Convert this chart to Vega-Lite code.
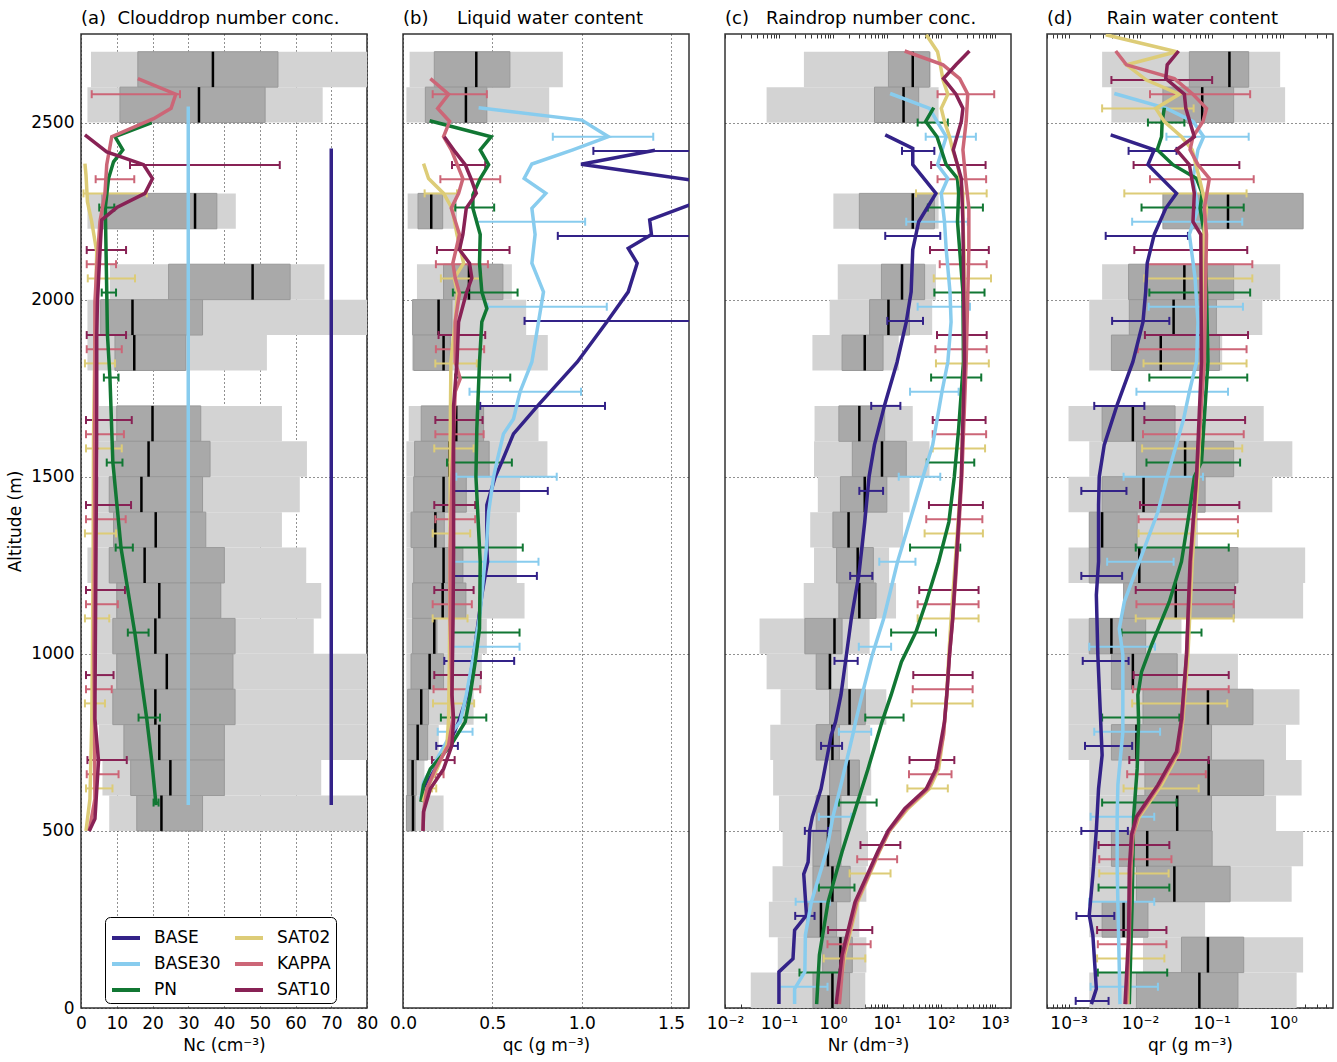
{
"$schema":"https://vega.github.io/schema/vega-lite/v6.json",
"padding":{"left":5,"top":8,"right":4,"bottom":4},
"autosize":{"type":"pad"},
"background":"white",
"bounds":"flush",
"spacing":36,
"config":{
 "font":"DejaVu Sans",
 "view":{"stroke":"#333","strokeWidth":1.5},
 "axis":{"labelFontSize":17,"titleFontSize":17,"titleFontWeight":"normal","labelColor":"#000","titleColor":"#000","grid":true,"gridColor":"#222","gridDash":[1,3],"gridWidth":1,"domain":false,"ticks":false,"labelPadding":7,"titlePadding":6,"labelFlush":false,"labelOverlap":false,"zindex":1},
 "title":{"fontSize":18,"fontWeight":"normal","anchor":"start","frame":"group","offset":6,"color":"#000"}
},
"datasets":{
"obs":[
{"p":"a","y":2600,"y1":2700,"lo":2.8,"q1":15.9,"med":36.9,"q3":55.1,"hi":90},
{"p":"a","y":2500,"y1":2600,"lo":1.8,"q1":10.9,"med":33.0,"q3":51.5,"hi":67.6},
{"p":"a","y":2200,"y1":2300,"lo":1.8,"q1":5.8,"med":31.9,"q3":38.0,"hi":43.3},
{"p":"a","y":2000,"y1":2100,"lo":8.1,"q1":24.5,"med":48.0,"q3":58.5,"hi":68.1},
{"p":"a","y":1900,"y1":2000,"lo":1.8,"q1":5.5,"med":14.4,"q3":34.0,"hi":90},
{"p":"a","y":1800,"y1":1900,"lo":1.8,"q1":9.5,"med":14.9,"q3":29.3,"hi":52.0},
{"p":"a","y":1600,"y1":1700,"lo":5.0,"q1":10.0,"med":20.0,"q3":33.5,"hi":56.2},
{"p":"a","y":1500,"y1":1600,"lo":5.0,"q1":9.1,"med":18.9,"q3":36.1,"hi":63.2},
{"p":"a","y":1400,"y1":1500,"lo":4.5,"q1":7.9,"med":16.9,"q3":34.0,"hi":61.2},
{"p":"a","y":1300,"y1":1400,"lo":4.5,"q1":9.1,"med":20.9,"q3":34.9,"hi":56.2},
{"p":"a","y":1200,"y1":1300,"lo":1.8,"q1":7.9,"med":17.8,"q3":40.1,"hi":63.0},
{"p":"a","y":1100,"y1":1200,"lo":3.5,"q1":10.0,"med":21.9,"q3":39.1,"hi":67.2},
{"p":"a","y":1000,"y1":1100,"lo":4.5,"q1":8.9,"med":20.8,"q3":43.1,"hi":65.1},
{"p":"a","y":900,"y1":1000,"lo":4.5,"q1":10.0,"med":24.0,"q3":42.5,"hi":90},
{"p":"a","y":800,"y1":900,"lo":4.5,"q1":8.9,"med":20.8,"q3":43.1,"hi":90},
{"p":"a","y":700,"y1":800,"lo":5.0,"q1":12.0,"med":21.9,"q3":40.1,"hi":90},
{"p":"a","y":600,"y1":700,"lo":6.0,"q1":13.9,"med":25.0,"q3":40.1,"hi":67.2},
{"p":"a","y":500,"y1":600,"lo":7.9,"q1":15.6,"med":22.5,"q3":34.0,"hi":90},
{"p":"b","y":2600,"y1":2700,"lo":0.037,"q1":0.175,"med":0.41,"q3":0.598,"hi":0.894},
{"p":"b","y":2500,"y1":2600,"lo":0.019,"q1":0.125,"med":0.352,"q3":0.469,"hi":0.818},
{"p":"b","y":2200,"y1":2300,"lo":0.026,"q1":0.084,"med":0.158,"q3":0.222,"hi":0.302},
{"p":"b","y":2000,"y1":2100,"lo":0.078,"q1":0.227,"med":0.369,"q3":0.559,"hi":0.609},
{"p":"b","y":1900,"y1":2000,"lo":0.05,"q1":0.054,"med":0.199,"q3":0.274,"hi":0.689},
{"p":"b","y":1800,"y1":1900,"lo":0.05,"q1":0.06,"med":0.227,"q3":0.265,"hi":0.81},
{"p":"b","y":1600,"y1":1700,"lo":0.032,"q1":0.102,"med":0.298,"q3":0.451,"hi":0.758},
{"p":"b","y":1500,"y1":1600,"lo":0.019,"q1":0.065,"med":0.259,"q3":0.482,"hi":0.808},
{"p":"b","y":1400,"y1":1500,"lo":0.019,"q1":0.06,"med":0.227,"q3":0.354,"hi":0.655},
{"p":"b","y":1300,"y1":1400,"lo":0.019,"q1":0.045,"med":0.181,"q3":0.231,"hi":0.637},
{"p":"b","y":1200,"y1":1300,"lo":0.019,"q1":0.06,"med":0.227,"q3":0.335,"hi":0.637},
{"p":"b","y":1100,"y1":1200,"lo":0.019,"q1":0.054,"med":0.222,"q3":0.352,"hi":0.68},
{"p":"b","y":1000,"y1":1100,"lo":0.019,"q1":0.054,"med":0.175,"q3":0.19,"hi":0.469},
{"p":"b","y":900,"y1":1000,"lo":0.019,"q1":0.045,"med":0.149,"q3":0.227,"hi":0.441},
{"p":"b","y":800,"y1":900,"lo":0.019,"q1":0.026,"med":0.102,"q3":0.143,"hi":0.395},
{"p":"b","y":700,"y1":800,"lo":0.019,"q1":0.026,"med":0.082,"q3":0.138,"hi":0.2},
{"p":"b","y":600,"y1":700,"lo":0.019,"q1":0.026,"med":0.054,"q3":0.074,"hi":0.12},
{"p":"b","y":500,"y1":600,"lo":0.019,"q1":0.019,"med":0.056,"q3":0.069,"hi":0.227},
{"p":"c","y":2600,"y1":2700,"lo":0.29,"q1":10.7,"med":30.2,"q3":61.7,"hi":66},
{"p":"c","y":2500,"y1":2600,"lo":0.059,"q1":5.9,"med":20.4,"q3":38.9,"hi":91},
{"p":"c","y":2200,"y1":2300,"lo":1.02,"q1":3.09,"med":30.2,"q3":75.9,"hi":91},
{"p":"c","y":2000,"y1":2100,"lo":1.23,"q1":7.94,"med":19.1,"q3":50.1,"hi":81.3},
{"p":"c","y":1900,"y1":2000,"lo":0.87,"q1":4.79,"med":10.7,"q3":26.3,"hi":69.2},
{"p":"c","y":1800,"y1":1900,"lo":0.417,"q1":1.48,"med":3.89,"q3":8.51,"hi":16.6},
{"p":"c","y":1600,"y1":1700,"lo":0.457,"q1":1.29,"med":3.09,"q3":9.12,"hi":30.2},
{"p":"c","y":1500,"y1":1600,"lo":0.447,"q1":2.29,"med":8.13,"q3":22.9,"hi":61.7},
{"p":"c","y":1400,"y1":1500,"lo":0.525,"q1":1.38,"med":3.89,"q3":10,"hi":26.3},
{"p":"c","y":1300,"y1":1400,"lo":0.38,"q1":1.0,"med":1.95,"q3":3.72,"hi":20},
{"p":"c","y":1200,"y1":1300,"lo":0.447,"q1":1.17,"med":2.88,"q3":5.62,"hi":11.0},
{"p":"c","y":1100,"y1":1200,"lo":0.288,"q1":1.29,"med":3.09,"q3":6.31,"hi":14.8},
{"p":"c","y":1000,"y1":1100,"lo":0.0437,"q1":0.302,"med":1.07,"q3":1.48,"hi":4.79},
{"p":"c","y":900,"y1":1000,"lo":0.059,"q1":0.49,"med":0.88,"q3":0.92,"hi":1.9},
{"p":"c","y":800,"y1":900,"lo":0.107,"q1":0.87,"med":2.04,"q3":3.98,"hi":9.77},
{"p":"c","y":700,"y1":800,"lo":0.069,"q1":0.49,"med":0.98,"q3":1.32,"hi":4.9},
{"p":"c","y":600,"y1":700,"lo":0.078,"q1":0.87,"med":1.95,"q3":3.09,"hi":5.13},
{"p":"c","y":500,"y1":600,"lo":0.1,"q1":0.49,"med":0.83,"q3":1.41,"hi":4.17},
{"p":"c","y":400,"y1":500,"lo":0.117,"q1":0.427,"med":0.81,"q3":1.41,"hi":4.47},
{"p":"c","y":300,"y1":400,"lo":0.076,"q1":0.427,"med":0.98,"q3":2.09,"hi":4.17},
{"p":"c","y":200,"y1":300,"lo":0.065,"q1":0.324,"med":0.6,"q3":1.17,"hi":3.09},
{"p":"c","y":100,"y1":200,"lo":0.095,"q1":0.646,"med":1.38,"q3":2.29,"hi":4.17},
{"p":"c","y":0,"y1":100,"lo":0.03,"q1":0.427,"med":0.98,"q3":2.04,"hi":3.98},
{"p":"d","y":2600,"y1":2700,"lo":0.00295,"q1":0.049,"med":0.178,"q3":0.331,"hi":0.912},
{"p":"d","y":2500,"y1":2600,"lo":0.00398,"q1":0.0209,"med":0.0741,"q3":0.204,"hi":1.07},
{"p":"d","y":2200,"y1":2300,"lo":0.0209,"q1":0.0209,"med":0.17,"q3":1.91,"hi":1.91},
{"p":"d","y":2000,"y1":2100,"lo":0.00295,"q1":0.00692,"med":0.0417,"q3":0.204,"hi":0.912},
{"p":"d","y":1900,"y1":2000,"lo":0.00195,"q1":0.00708,"med":0.0295,"q3":0.117,"hi":0.513},
{"p":"d","y":1800,"y1":1900,"lo":0.00195,"q1":0.00398,"med":0.0195,"q3":0.129,"hi":0.141},
{"p":"d","y":1600,"y1":1700,"lo":0.001,"q1":0.00295,"med":0.00794,"q3":0.0309,"hi":0.537},
{"p":"d","y":1500,"y1":1600,"lo":0.00195,"q1":0.00891,"med":0.0427,"q3":0.204,"hi":1.35},
{"p":"d","y":1400,"y1":1500,"lo":0.001,"q1":0.00295,"med":0.0112,"q3":0.0813,"hi":0.708},
{"p":"d","y":1300,"y1":1400,"lo":0.00195,"q1":0.00195,"med":0.00295,"q3":0.00912,"hi":0.0646},
{"p":"d","y":1200,"y1":1300,"lo":0.001,"q1":0.00195,"med":0.00977,"q3":0.234,"hi":2.04},
{"p":"d","y":1100,"y1":1200,"lo":0.00589,"q1":0.00589,"med":0.0316,"q3":0.209,"hi":1.91},
{"p":"d","y":1000,"y1":1100,"lo":0.001,"q1":0.00195,"med":0.00398,"q3":0.012,"hi":0.038},
{"p":"d","y":900,"y1":1000,"lo":0.001,"q1":0.00398,"med":0.00794,"q3":0.0331,"hi":0.234},
{"p":"d","y":800,"y1":900,"lo":0.001,"q1":0.011,"med":0.0891,"q3":0.38,"hi":1.7},
{"p":"d","y":700,"y1":800,"lo":0.001,"q1":0.00398,"med":0.00891,"q3":0.1,"hi":1.1},
{"p":"d","y":600,"y1":700,"lo":0.00195,"q1":0.0117,"med":0.0912,"q3":0.537,"hi":1.82},
{"p":"d","y":500,"y1":600,"lo":0.00195,"q1":0.00891,"med":0.0331,"q3":0.1,"hi":0.8},
{"p":"d","y":400,"y1":500,"lo":0.00195,"q1":0.00398,"med":0.0126,"q3":0.102,"hi":1.91},
{"p":"d","y":300,"y1":400,"lo":0.00195,"q1":0.00891,"med":0.0302,"q3":0.182,"hi":1.32},
{"p":"d","y":200,"y1":300,"lo":0.00195,"q1":0.00295,"med":0.00589,"q3":0.0129,"hi":0.0813},
{"p":"d","y":100,"y1":200,"lo":0.011,"q1":0.038,"med":0.0891,"q3":0.282,"hi":1.91},
{"p":"d","y":0,"y1":100,"lo":0.00195,"q1":0.00891,"med":0.0676,"q3":0.234,"hi":1.55}
],
"lines":[
{"p":"a","m":"BASE","y":573,"v":70},{"p":"a","m":"BASE","y":2427,"v":70},
{"p":"a","m":"BASE30","y":573,"v":30},{"p":"a","m":"BASE30","y":2545,"v":30},
{"p":"a","m":"PN","y":573,"v":21},{"p":"a","m":"PN","y":697,"v":19.8},{"p":"a","m":"PN","y":816,"v":18.4},{"p":"a","m":"PN","y":1056,"v":15.1},{"p":"a","m":"PN","y":1299,"v":11.2},{"p":"a","m":"PN","y":1542,"v":8.9},{"p":"a","m":"PN","y":1779,"v":8.1},{"p":"a","m":"PN","y":1900,"v":7.4},{"p":"a","m":"PN","y":2022,"v":7.2},{"p":"a","m":"PN","y":2260,"v":6.8},{"p":"a","m":"PN","y":2342,"v":7.7},{"p":"a","m":"PN","y":2389,"v":9.1},{"p":"a","m":"PN","y":2423,"v":11.7},{"p":"a","m":"PN","y":2460,"v":9.5},{"p":"a","m":"PN","y":2500,"v":19.8},
{"p":"a","m":"SAT02","y":500,"v":1.4},{"p":"a","m":"SAT02","y":590,"v":2.5},{"p":"a","m":"SAT02","y":800,"v":3.0},{"p":"a","m":"SAT02","y":1000,"v":3.2},{"p":"a","m":"SAT02","y":1300,"v":3.4},{"p":"a","m":"SAT02","y":1600,"v":3.5},{"p":"a","m":"SAT02","y":1900,"v":3.9},{"p":"a","m":"SAT02","y":2135,"v":4.4},{"p":"a","m":"SAT02","y":2220,"v":3.0},{"p":"a","m":"SAT02","y":2276,"v":1.8},{"p":"a","m":"SAT02","y":2352,"v":1.4},{"p":"a","m":"SAT02","y":2384,"v":1.1},
{"p":"a","m":"KAPPA","y":500,"v":2.3},{"p":"a","m":"KAPPA","y":590,"v":3.9},{"p":"a","m":"KAPPA","y":800,"v":3.8},{"p":"a","m":"KAPPA","y":1000,"v":3.6},{"p":"a","m":"KAPPA","y":1300,"v":3.8},{"p":"a","m":"KAPPA","y":1600,"v":3.8},{"p":"a","m":"KAPPA","y":1800,"v":3.9},{"p":"a","m":"KAPPA","y":1994,"v":3.9},{"p":"a","m":"KAPPA","y":2088,"v":4.4},{"p":"a","m":"KAPPA","y":2220,"v":5.3},{"p":"a","m":"KAPPA","y":2300,"v":6.7},{"p":"a","m":"KAPPA","y":2381,"v":7.2},{"p":"a","m":"KAPPA","y":2460,"v":8.6},{"p":"a","m":"KAPPA","y":2511,"v":20.3},{"p":"a","m":"KAPPA","y":2540,"v":25.2},{"p":"a","m":"KAPPA","y":2580,"v":26.5},{"p":"a","m":"KAPPA","y":2624,"v":15.9},
{"p":"a","m":"SAT10","y":500,"v":2.3},{"p":"a","m":"SAT10","y":534,"v":3.9},{"p":"a","m":"SAT10","y":697,"v":4.9},{"p":"a","m":"SAT10","y":816,"v":3.9},{"p":"a","m":"SAT10","y":1000,"v":4.0},{"p":"a","m":"SAT10","y":1300,"v":4.2},{"p":"a","m":"SAT10","y":1600,"v":4.4},{"p":"a","m":"SAT10","y":1900,"v":4.4},{"p":"a","m":"SAT10","y":1994,"v":4.6},{"p":"a","m":"SAT10","y":2135,"v":5.3},{"p":"a","m":"SAT10","y":2225,"v":5.8},{"p":"a","m":"SAT10","y":2260,"v":10.0},{"p":"a","m":"SAT10","y":2300,"v":17.9},{"p":"a","m":"SAT10","y":2342,"v":20.0},{"p":"a","m":"SAT10","y":2381,"v":17.5},{"p":"a","m":"SAT10","y":2417,"v":7.2},{"p":"a","m":"SAT10","y":2465,"v":1.1},
{"p":"b","m":"BASE","y":590,"v":0.106},{"p":"b","m":"BASE","y":619,"v":0.115},{"p":"b","m":"BASE","y":675,"v":0.171},{"p":"b","m":"BASE","y":742,"v":0.255},{"p":"b","m":"BASE","y":808,"v":0.311},{"p":"b","m":"BASE","y":884,"v":0.361},{"p":"b","m":"BASE","y":1025,"v":0.404},{"p":"b","m":"BASE","y":1166,"v":0.441},{"p":"b","m":"BASE","y":1260,"v":0.473},{"p":"b","m":"BASE","y":1299,"v":0.469},{"p":"b","m":"BASE","y":1420,"v":0.469},{"p":"b","m":"BASE","y":1500,"v":0.516},{"p":"b","m":"BASE","y":1542,"v":0.553},{"p":"b","m":"BASE","y":1621,"v":0.618},{"p":"b","m":"BASE","y":1703,"v":0.758},{"p":"b","m":"BASE","y":1824,"v":0.975},{"p":"b","m":"BASE","y":1937,"v":1.14},{"p":"b","m":"BASE","y":2022,"v":1.26},{"p":"b","m":"BASE","y":2103,"v":1.31},{"p":"b","m":"BASE","y":2145,"v":1.26},{"p":"b","m":"BASE","y":2184,"v":1.39},{"p":"b","m":"BASE","y":2225,"v":1.38},{"p":"b","m":"BASE","y":2267,"v":1.6},{"p":"b","m":"BASE","y":2300,"v":1.85},{"p":"b","m":"BASE","y":2337,"v":1.62},{"p":"b","m":"BASE","y":2382,"v":0.996},{"p":"b","m":"BASE","y":2422,"v":1.41},
{"p":"b","m":"BASE30","y":590,"v":0.1},{"p":"b","m":"BASE30","y":638,"v":0.115},{"p":"b","m":"BASE30","y":695,"v":0.181},{"p":"b","m":"BASE30","y":779,"v":0.274},{"p":"b","m":"BASE30","y":808,"v":0.32},{"p":"b","m":"BASE30","y":884,"v":0.354},{"p":"b","m":"BASE30","y":997,"v":0.395},{"p":"b","m":"BASE30","y":1118,"v":0.432},{"p":"b","m":"BASE30","y":1222,"v":0.451},{"p":"b","m":"BASE30","y":1297,"v":0.466},{"p":"b","m":"BASE30","y":1401,"v":0.479},{"p":"b","m":"BASE30","y":1500,"v":0.507},{"p":"b","m":"BASE30","y":1542,"v":0.525},{"p":"b","m":"BASE30","y":1621,"v":0.562},{"p":"b","m":"BASE30","y":1663,"v":0.618},{"p":"b","m":"BASE30","y":1740,"v":0.655},{"p":"b","m":"BASE30","y":1824,"v":0.721},{"p":"b","m":"BASE30","y":1937,"v":0.758},{"p":"b","m":"BASE30","y":2022,"v":0.786},{"p":"b","m":"BASE30","y":2103,"v":0.721},{"p":"b","m":"BASE30","y":2184,"v":0.739},{"p":"b","m":"BASE30","y":2258,"v":0.721},{"p":"b","m":"BASE30","y":2300,"v":0.799},{"p":"b","m":"BASE30","y":2342,"v":0.678},{"p":"b","m":"BASE30","y":2383,"v":0.721},{"p":"b","m":"BASE30","y":2423,"v":0.95},{"p":"b","m":"BASE30","y":2460,"v":1.149},{"p":"b","m":"BASE30","y":2507,"v":1.0},{"p":"b","m":"BASE30","y":2542,"v":0.423},
{"p":"b","m":"PN","y":582,"v":0.1},{"p":"b","m":"PN","y":630,"v":0.115},{"p":"b","m":"PN","y":675,"v":0.153},{"p":"b","m":"PN","y":742,"v":0.268},{"p":"b","m":"PN","y":808,"v":0.348},{"p":"b","m":"PN","y":884,"v":0.376},{"p":"b","m":"PN","y":977,"v":0.404},{"p":"b","m":"PN","y":1071,"v":0.428},{"p":"b","m":"PN","y":1260,"v":0.432},{"p":"b","m":"PN","y":1500,"v":0.408},{"p":"b","m":"PN","y":1635,"v":0.413},{"p":"b","m":"PN","y":1824,"v":0.428},{"p":"b","m":"PN","y":1937,"v":0.441},{"p":"b","m":"PN","y":1975,"v":0.469},{"p":"b","m":"PN","y":2022,"v":0.441},{"p":"b","m":"PN","y":2103,"v":0.428},{"p":"b","m":"PN","y":2184,"v":0.432},{"p":"b","m":"PN","y":2258,"v":0.391},{"p":"b","m":"PN","y":2296,"v":0.391},{"p":"b","m":"PN","y":2342,"v":0.432},{"p":"b","m":"PN","y":2381,"v":0.479},{"p":"b","m":"PN","y":2423,"v":0.432},{"p":"b","m":"PN","y":2460,"v":0.493},{"p":"b","m":"PN","y":2505,"v":0.149},
{"p":"b","m":"SAT02","y":582,"v":0.112},{"p":"b","m":"SAT02","y":619,"v":0.134},{"p":"b","m":"SAT02","y":675,"v":0.19},{"p":"b","m":"SAT02","y":742,"v":0.246},{"p":"b","m":"SAT02","y":816,"v":0.255},{"p":"b","m":"SAT02","y":1000,"v":0.26},{"p":"b","m":"SAT02","y":1300,"v":0.264},{"p":"b","m":"SAT02","y":1600,"v":0.264},{"p":"b","m":"SAT02","y":1824,"v":0.268},{"p":"b","m":"SAT02","y":1937,"v":0.292},{"p":"b","m":"SAT02","y":2018,"v":0.305},{"p":"b","m":"SAT02","y":2061,"v":0.287},{"p":"b","m":"SAT02","y":2103,"v":0.339},{"p":"b","m":"SAT02","y":2184,"v":0.302},{"p":"b","m":"SAT02","y":2258,"v":0.274},{"p":"b","m":"SAT02","y":2300,"v":0.227},{"p":"b","m":"SAT02","y":2342,"v":0.143},{"p":"b","m":"SAT02","y":2384,"v":0.115},
{"p":"b","m":"KAPPA","y":500,"v":0.112},{"p":"b","m":"KAPPA","y":554,"v":0.115},{"p":"b","m":"KAPPA","y":619,"v":0.134},{"p":"b","m":"KAPPA","y":675,"v":0.181},{"p":"b","m":"KAPPA","y":742,"v":0.255},{"p":"b","m":"KAPPA","y":816,"v":0.279},{"p":"b","m":"KAPPA","y":884,"v":0.274},{"p":"b","m":"KAPPA","y":1100,"v":0.264},{"p":"b","m":"KAPPA","y":1300,"v":0.264},{"p":"b","m":"KAPPA","y":1500,"v":0.274},{"p":"b","m":"KAPPA","y":1740,"v":0.292},{"p":"b","m":"KAPPA","y":1777,"v":0.32},{"p":"b","m":"KAPPA","y":1824,"v":0.292},{"p":"b","m":"KAPPA","y":1937,"v":0.292},{"p":"b","m":"KAPPA","y":2018,"v":0.316},{"p":"b","m":"KAPPA","y":2061,"v":0.292},{"p":"b","m":"KAPPA","y":2103,"v":0.279},{"p":"b","m":"KAPPA","y":2184,"v":0.316},{"p":"b","m":"KAPPA","y":2258,"v":0.27},{"p":"b","m":"KAPPA","y":2300,"v":0.311},{"p":"b","m":"KAPPA","y":2342,"v":0.335},{"p":"b","m":"KAPPA","y":2423,"v":0.27},{"p":"b","m":"KAPPA","y":2460,"v":0.227},{"p":"b","m":"KAPPA","y":2503,"v":0.261},{"p":"b","m":"KAPPA","y":2540,"v":0.194},{"p":"b","m":"KAPPA","y":2580,"v":0.255},{"p":"b","m":"KAPPA","y":2624,"v":0.153},
{"p":"b","m":"SAT10","y":500,"v":0.112},{"p":"b","m":"SAT10","y":554,"v":0.115},{"p":"b","m":"SAT10","y":619,"v":0.153},{"p":"b","m":"SAT10","y":675,"v":0.227},{"p":"b","m":"SAT10","y":742,"v":0.274},{"p":"b","m":"SAT10","y":816,"v":0.283},{"p":"b","m":"SAT10","y":884,"v":0.274},{"p":"b","m":"SAT10","y":1100,"v":0.28},{"p":"b","m":"SAT10","y":1300,"v":0.283},{"p":"b","m":"SAT10","y":1500,"v":0.283},{"p":"b","m":"SAT10","y":1700,"v":0.283},{"p":"b","m":"SAT10","y":1824,"v":0.302},{"p":"b","m":"SAT10","y":1937,"v":0.311},{"p":"b","m":"SAT10","y":2018,"v":0.354},{"p":"b","m":"SAT10","y":2061,"v":0.385},{"p":"b","m":"SAT10","y":2103,"v":0.372},{"p":"b","m":"SAT10","y":2141,"v":0.316},{"p":"b","m":"SAT10","y":2184,"v":0.335},{"p":"b","m":"SAT10","y":2258,"v":0.354},{"p":"b","m":"SAT10","y":2300,"v":0.41},{"p":"b","m":"SAT10","y":2342,"v":0.38},{"p":"b","m":"SAT10","y":2381,"v":0.348},{"p":"b","m":"SAT10","y":2417,"v":0.292},{"p":"b","m":"SAT10","y":2460,"v":0.231},
{"p":"c","m":"BASE","y":11,"v":0.1},{"p":"c","m":"BASE","y":102,"v":0.1},{"p":"c","m":"BASE","y":139,"v":0.182},{"p":"c","m":"BASE","y":220,"v":0.195},{"p":"c","m":"BASE","y":262,"v":0.324},{"p":"c","m":"BASE","y":378,"v":0.288},{"p":"c","m":"BASE","y":412,"v":0.347},{"p":"c","m":"BASE","y":503,"v":0.372},{"p":"c","m":"BASE","y":540,"v":0.417},{"p":"c","m":"BASE","y":619,"v":0.603},{"p":"c","m":"BASE","y":771,"v":0.933},{"p":"c","m":"BASE","y":808,"v":1.12},{"p":"c","m":"BASE","y":884,"v":1.41},{"p":"c","m":"BASE","y":997,"v":1.78},{"p":"c","m":"BASE","y":1099,"v":2.19},{"p":"c","m":"BASE","y":1222,"v":3.02},{"p":"c","m":"BASE","y":1372,"v":3.89},{"p":"c","m":"BASE","y":1500,"v":4.68},{"p":"c","m":"BASE","y":1590,"v":5.89},{"p":"c","m":"BASE","y":1703,"v":9.12},{"p":"c","m":"BASE","y":1824,"v":15.5},{"p":"c","m":"BASE","y":1937,"v":22.9},{"p":"c","m":"BASE","y":2022,"v":28.2},{"p":"c","m":"BASE","y":2141,"v":30.2},{"p":"c","m":"BASE","y":2220,"v":38.9},{"p":"c","m":"BASE","y":2300,"v":81.3},{"p":"c","m":"BASE","y":2381,"v":30.2},{"p":"c","m":"BASE","y":2427,"v":30.2},{"p":"c","m":"BASE","y":2465,"v":9.33},
{"p":"c","m":"BASE30","y":11,"v":0.195},{"p":"c","m":"BASE30","y":54,"v":0.195},{"p":"c","m":"BASE30","y":102,"v":0.302},{"p":"c","m":"BASE30","y":206,"v":0.309},{"p":"c","m":"BASE30","y":299,"v":0.398},{"p":"c","m":"BASE30","y":441,"v":0.759},{"p":"c","m":"BASE30","y":540,"v":1.0},{"p":"c","m":"BASE30","y":630,"v":1.41},{"p":"c","m":"BASE30","y":779,"v":2.4},{"p":"c","m":"BASE30","y":808,"v":2.63},{"p":"c","m":"BASE30","y":884,"v":3.47},{"p":"c","m":"BASE30","y":997,"v":5.37},{"p":"c","m":"BASE30","y":1099,"v":8.71},{"p":"c","m":"BASE30","y":1260,"v":15.8},{"p":"c","m":"BASE30","y":1372,"v":26.3},{"p":"c","m":"BASE30","y":1500,"v":46.8},{"p":"c","m":"BASE30","y":1590,"v":70.8},{"p":"c","m":"BASE30","y":1740,"v":105},{"p":"c","m":"BASE30","y":1824,"v":135},{"p":"c","m":"BASE30","y":1937,"v":155},{"p":"c","m":"BASE30","y":2022,"v":148},{"p":"c","m":"BASE30","y":2141,"v":126},{"p":"c","m":"BASE30","y":2220,"v":117},{"p":"c","m":"BASE30","y":2300,"v":102},{"p":"c","m":"BASE30","y":2342,"v":135},{"p":"c","m":"BASE30","y":2381,"v":87},{"p":"c","m":"BASE30","y":2460,"v":126},{"p":"c","m":"BASE30","y":2503,"v":85},{"p":"c","m":"BASE30","y":2540,"v":61.7},{"p":"c","m":"BASE30","y":2582,"v":11.5},
{"p":"c","m":"PN","y":11,"v":0.5},{"p":"c","m":"PN","y":150,"v":0.562},{"p":"c","m":"PN","y":299,"v":0.813},{"p":"c","m":"PN","y":441,"v":1.48},{"p":"c","m":"PN","y":582,"v":2.88},{"p":"c","m":"PN","y":675,"v":4.47},{"p":"c","m":"PN","y":808,"v":8.13},{"p":"c","m":"PN","y":884,"v":12.0},{"p":"c","m":"PN","y":977,"v":18.6},{"p":"c","m":"PN","y":1062,"v":34.7},{"p":"c","m":"PN","y":1147,"v":53.7},{"p":"c","m":"PN","y":1260,"v":91.2},{"p":"c","m":"PN","y":1372,"v":141},{"p":"c","m":"PN","y":1500,"v":178},{"p":"c","m":"PN","y":1635,"v":214},{"p":"c","m":"PN","y":1824,"v":263},{"p":"c","m":"PN","y":2022,"v":257},{"p":"c","m":"PN","y":2220,"v":204},{"p":"c","m":"PN","y":2300,"v":214},{"p":"c","m":"PN","y":2342,"v":204},{"p":"c","m":"PN","y":2381,"v":126},{"p":"c","m":"PN","y":2460,"v":85},{"p":"c","m":"PN","y":2503,"v":52.5},{"p":"c","m":"PN","y":2542,"v":74},
{"p":"c","m":"SAT02","y":11,"v":1.23},{"p":"c","m":"SAT02","y":150,"v":1.66},{"p":"c","m":"SAT02","y":299,"v":2.88},{"p":"c","m":"SAT02","y":441,"v":7.24},{"p":"c","m":"SAT02","y":500,"v":11.2},{"p":"c","m":"SAT02","y":563,"v":24.5},{"p":"c","m":"SAT02","y":619,"v":61.7},{"p":"c","m":"SAT02","y":675,"v":91.2},{"p":"c","m":"SAT02","y":771,"v":112},{"p":"c","m":"SAT02","y":864,"v":126},{"p":"c","m":"SAT02","y":997,"v":141},{"p":"c","m":"SAT02","y":1099,"v":155},{"p":"c","m":"SAT02","y":1222,"v":178},{"p":"c","m":"SAT02","y":1372,"v":209},{"p":"c","m":"SAT02","y":1500,"v":240},{"p":"c","m":"SAT02","y":1824,"v":275},{"p":"c","m":"SAT02","y":2141,"v":269},{"p":"c","m":"SAT02","y":2220,"v":257},{"p":"c","m":"SAT02","y":2300,"v":257},{"p":"c","m":"SAT02","y":2381,"v":204},{"p":"c","m":"SAT02","y":2423,"v":166},{"p":"c","m":"SAT02","y":2460,"v":145},{"p":"c","m":"SAT02","y":2503,"v":117},{"p":"c","m":"SAT02","y":2540,"v":102},{"p":"c","m":"SAT02","y":2580,"v":135},{"p":"c","m":"SAT02","y":2620,"v":110},{"p":"c","m":"SAT02","y":2663,"v":98},{"p":"c","m":"SAT02","y":2700,"v":87},{"p":"c","m":"SAT02","y":2748,"v":53.7},
{"p":"c","m":"KAPPA","y":11,"v":1.32},{"p":"c","m":"KAPPA","y":150,"v":1.58},{"p":"c","m":"KAPPA","y":299,"v":2.75},{"p":"c","m":"KAPPA","y":441,"v":7.08},{"p":"c","m":"KAPPA","y":500,"v":11.0},{"p":"c","m":"KAPPA","y":563,"v":22.9},{"p":"c","m":"KAPPA","y":619,"v":57.5},{"p":"c","m":"KAPPA","y":675,"v":85},{"p":"c","m":"KAPPA","y":771,"v":112},{"p":"c","m":"KAPPA","y":884,"v":129},{"p":"c","m":"KAPPA","y":997,"v":145},{"p":"c","m":"KAPPA","y":1099,"v":166},{"p":"c","m":"KAPPA","y":1222,"v":191},{"p":"c","m":"KAPPA","y":1372,"v":219},{"p":"c","m":"KAPPA","y":1500,"v":245},{"p":"c","m":"KAPPA","y":1824,"v":295},{"p":"c","m":"KAPPA","y":2141,"v":331},{"p":"c","m":"KAPPA","y":2258,"v":331},{"p":"c","m":"KAPPA","y":2342,"v":288},{"p":"c","m":"KAPPA","y":2423,"v":257},{"p":"c","m":"KAPPA","y":2503,"v":295},{"p":"c","m":"KAPPA","y":2580,"v":316},{"p":"c","m":"KAPPA","y":2624,"v":224},{"p":"c","m":"KAPPA","y":2663,"v":110},{"p":"c","m":"KAPPA","y":2702,"v":21.4},
{"p":"c","m":"SAT10","y":11,"v":1.15},{"p":"c","m":"SAT10","y":150,"v":1.48},{"p":"c","m":"SAT10","y":299,"v":2.57},{"p":"c","m":"SAT10","y":441,"v":6.76},{"p":"c","m":"SAT10","y":500,"v":10.5},{"p":"c","m":"SAT10","y":563,"v":21.4},{"p":"c","m":"SAT10","y":619,"v":53.7},{"p":"c","m":"SAT10","y":675,"v":81.3},{"p":"c","m":"SAT10","y":808,"v":117},{"p":"c","m":"SAT10","y":884,"v":129},{"p":"c","m":"SAT10","y":997,"v":145},{"p":"c","m":"SAT10","y":1099,"v":166},{"p":"c","m":"SAT10","y":1222,"v":186},{"p":"c","m":"SAT10","y":1372,"v":214},{"p":"c","m":"SAT10","y":1500,"v":240},{"p":"c","m":"SAT10","y":1824,"v":275},{"p":"c","m":"SAT10","y":2220,"v":257},{"p":"c","m":"SAT10","y":2342,"v":240},{"p":"c","m":"SAT10","y":2423,"v":170},{"p":"c","m":"SAT10","y":2503,"v":240},{"p":"c","m":"SAT10","y":2540,"v":257},{"p":"c","m":"SAT10","y":2580,"v":191},{"p":"c","m":"SAT10","y":2624,"v":112},{"p":"c","m":"SAT10","y":2663,"v":191},{"p":"c","m":"SAT10","y":2702,"v":339},
{"p":"d","m":"BASE","y":11,"v":0.00209},{"p":"d","m":"BASE","y":54,"v":0.00245},{"p":"d","m":"BASE","y":206,"v":0.00219},{"p":"d","m":"BASE","y":262,"v":0.00195},{"p":"d","m":"BASE","y":375,"v":0.00219},{"p":"d","m":"BASE","y":503,"v":0.00245},{"p":"d","m":"BASE","y":619,"v":0.00263},{"p":"d","m":"BASE","y":714,"v":0.00295},{"p":"d","m":"BASE","y":808,"v":0.00282},{"p":"d","m":"BASE","y":997,"v":0.00257},{"p":"d","m":"BASE","y":1166,"v":0.00245},{"p":"d","m":"BASE","y":1260,"v":0.00263},{"p":"d","m":"BASE","y":1420,"v":0.00263},{"p":"d","m":"BASE","y":1500,"v":0.00269},{"p":"d","m":"BASE","y":1590,"v":0.00316},{"p":"d","m":"BASE","y":1703,"v":0.00479},{"p":"d","m":"BASE","y":1824,"v":0.00794},{"p":"d","m":"BASE","y":1937,"v":0.011},{"p":"d","m":"BASE","y":2022,"v":0.012},{"p":"d","m":"BASE","y":2103,"v":0.0126},{"p":"d","m":"BASE","y":2184,"v":0.0158},{"p":"d","m":"BASE","y":2258,"v":0.0229},{"p":"d","m":"BASE","y":2300,"v":0.0324},{"p":"d","m":"BASE","y":2381,"v":0.0129},{"p":"d","m":"BASE","y":2423,"v":0.0158},{"p":"d","m":"BASE","y":2465,"v":0.00389},
{"p":"d","m":"BASE30","y":11,"v":0.00525},{"p":"d","m":"BASE30","y":110,"v":0.00513},{"p":"d","m":"BASE30","y":299,"v":0.0049},{"p":"d","m":"BASE30","y":393,"v":0.00479},{"p":"d","m":"BASE30","y":540,"v":0.00479},{"p":"d","m":"BASE30","y":630,"v":0.0049},{"p":"d","m":"BASE30","y":779,"v":0.00575},{"p":"d","m":"BASE30","y":997,"v":0.00575},{"p":"d","m":"BASE30","y":1071,"v":0.00513},{"p":"d","m":"BASE30","y":1147,"v":0.00603},{"p":"d","m":"BASE30","y":1260,"v":0.00977},{"p":"d","m":"BASE30","y":1401,"v":0.0178},{"p":"d","m":"BASE30","y":1500,"v":0.024},{"p":"d","m":"BASE30","y":1663,"v":0.0407},{"p":"d","m":"BASE30","y":1740,"v":0.049},{"p":"d","m":"BASE30","y":1824,"v":0.0617},{"p":"d","m":"BASE30","y":1937,"v":0.0646},{"p":"d","m":"BASE30","y":2061,"v":0.0589},{"p":"d","m":"BASE30","y":2184,"v":0.049},{"p":"d","m":"BASE30","y":2258,"v":0.0646},{"p":"d","m":"BASE30","y":2342,"v":0.055},{"p":"d","m":"BASE30","y":2423,"v":0.0646},{"p":"d","m":"BASE30","y":2460,"v":0.0776},{"p":"d","m":"BASE30","y":2503,"v":0.055},{"p":"d","m":"BASE30","y":2540,"v":0.0234},{"p":"d","m":"BASE30","y":2582,"v":0.00437},
{"p":"d","m":"PN","y":11,"v":0.00708},{"p":"d","m":"PN","y":299,"v":0.00776},{"p":"d","m":"PN","y":540,"v":0.00813},{"p":"d","m":"PN","y":675,"v":0.00912},{"p":"d","m":"PN","y":808,"v":0.00955},{"p":"d","m":"PN","y":884,"v":0.00933},{"p":"d","m":"PN","y":949,"v":0.0105},{"p":"d","m":"PN","y":1025,"v":0.0145},{"p":"d","m":"PN","y":1147,"v":0.0257},{"p":"d","m":"PN","y":1260,"v":0.038},{"p":"d","m":"PN","y":1401,"v":0.049},{"p":"d","m":"PN","y":1500,"v":0.0575},{"p":"d","m":"PN","y":1542,"v":0.0724},{"p":"d","m":"PN","y":1824,"v":0.0891},{"p":"d","m":"PN","y":2022,"v":0.0851},{"p":"d","m":"PN","y":2184,"v":0.0794},{"p":"d","m":"PN","y":2258,"v":0.0692},{"p":"d","m":"PN","y":2300,"v":0.0741},{"p":"d","m":"PN","y":2342,"v":0.0617},{"p":"d","m":"PN","y":2381,"v":0.0288},{"p":"d","m":"PN","y":2423,"v":0.0174},{"p":"d","m":"PN","y":2460,"v":0.02},{"p":"d","m":"PN","y":2503,"v":0.0204},{"p":"d","m":"PN","y":2542,"v":0.0219},
{"p":"d","m":"SAT02","y":11,"v":0.00676},{"p":"d","m":"SAT02","y":206,"v":0.00692},{"p":"d","m":"SAT02","y":393,"v":0.00741},{"p":"d","m":"SAT02","y":489,"v":0.00794},{"p":"d","m":"SAT02","y":540,"v":0.00977},{"p":"d","m":"SAT02","y":630,"v":0.02},{"p":"d","m":"SAT02","y":724,"v":0.0355},{"p":"d","m":"SAT02","y":816,"v":0.0398},{"p":"d","m":"SAT02","y":997,"v":0.0468},{"p":"d","m":"SAT02","y":1260,"v":0.0537},{"p":"d","m":"SAT02","y":1500,"v":0.0646},{"p":"d","m":"SAT02","y":1824,"v":0.0759},{"p":"d","m":"SAT02","y":2103,"v":0.0759},{"p":"d","m":"SAT02","y":2184,"v":0.0776},{"p":"d","m":"SAT02","y":2258,"v":0.0851},{"p":"d","m":"SAT02","y":2342,"v":0.0676},{"p":"d","m":"SAT02","y":2423,"v":0.0537},{"p":"d","m":"SAT02","y":2460,"v":0.038},{"p":"d","m":"SAT02","y":2503,"v":0.0219},{"p":"d","m":"SAT02","y":2540,"v":0.0166},{"p":"d","m":"SAT02","y":2580,"v":0.0355},{"p":"d","m":"SAT02","y":2620,"v":0.0123},{"p":"d","m":"SAT02","y":2663,"v":0.00646},{"p":"d","m":"SAT02","y":2700,"v":0.0324},{"p":"d","m":"SAT02","y":2748,"v":0.00331},
{"p":"d","m":"KAPPA","y":11,"v":0.00646},{"p":"d","m":"KAPPA","y":206,"v":0.00708},{"p":"d","m":"KAPPA","y":393,"v":0.00741},{"p":"d","m":"KAPPA","y":489,"v":0.00794},{"p":"d","m":"KAPPA","y":540,"v":0.00933},{"p":"d","m":"KAPPA","y":630,"v":0.0186},{"p":"d","m":"KAPPA","y":724,"v":0.0339},{"p":"d","m":"KAPPA","y":816,"v":0.0389},{"p":"d","m":"KAPPA","y":997,"v":0.0447},{"p":"d","m":"KAPPA","y":1260,"v":0.0513},{"p":"d","m":"KAPPA","y":1500,"v":0.0617},{"p":"d","m":"KAPPA","y":1824,"v":0.0794},{"p":"d","m":"KAPPA","y":2184,"v":0.0851},{"p":"d","m":"KAPPA","y":2258,"v":0.0794},{"p":"d","m":"KAPPA","y":2342,"v":0.0933},{"p":"d","m":"KAPPA","y":2381,"v":0.0646},{"p":"d","m":"KAPPA","y":2423,"v":0.0501},{"p":"d","m":"KAPPA","y":2460,"v":0.055},{"p":"d","m":"KAPPA","y":2503,"v":0.0759},{"p":"d","m":"KAPPA","y":2540,"v":0.0851},{"p":"d","m":"KAPPA","y":2580,"v":0.055},{"p":"d","m":"KAPPA","y":2624,"v":0.0302},{"p":"d","m":"KAPPA","y":2663,"v":0.00646},{"p":"d","m":"KAPPA","y":2702,"v":0.00457},
{"p":"d","m":"SAT10","y":11,"v":0.00617},{"p":"d","m":"SAT10","y":206,"v":0.00692},{"p":"d","m":"SAT10","y":393,"v":0.00708},{"p":"d","m":"SAT10","y":489,"v":0.00759},{"p":"d","m":"SAT10","y":540,"v":0.00891},{"p":"d","m":"SAT10","y":630,"v":0.0178},{"p":"d","m":"SAT10","y":724,"v":0.0324},{"p":"d","m":"SAT10","y":816,"v":0.038},{"p":"d","m":"SAT10","y":997,"v":0.0447},{"p":"d","m":"SAT10","y":1260,"v":0.0501},{"p":"d","m":"SAT10","y":1500,"v":0.0617},{"p":"d","m":"SAT10","y":1824,"v":0.0724},{"p":"d","m":"SAT10","y":2184,"v":0.0708},{"p":"d","m":"SAT10","y":2220,"v":0.055},{"p":"d","m":"SAT10","y":2300,"v":0.0575},{"p":"d","m":"SAT10","y":2381,"v":0.049},{"p":"d","m":"SAT10","y":2423,"v":0.0324},{"p":"d","m":"SAT10","y":2460,"v":0.0575},{"p":"d","m":"SAT10","y":2540,"v":0.0437},{"p":"d","m":"SAT10","y":2580,"v":0.0417},{"p":"d","m":"SAT10","y":2624,"v":0.0229},{"p":"d","m":"SAT10","y":2663,"v":0.024},{"p":"d","m":"SAT10","y":2702,"v":0.0347}
],
"err":[
{"p":"a","m":"KAPPA","y":2580,"lo":3.0,"hi":27.7},{"p":"a","m":"SAT10","y":2380,"lo":13.7,"hi":55.6},{"p":"a","m":"KAPPA","y":2340,"lo":4.1,"hi":14.9},{"p":"a","m":"SAT02","y":2300,"lo":0.7,"hi":18.4},{"p":"a","m":"PN","y":2260,"lo":5.1,"hi":9.3},{"p":"a","m":"SAT10","y":2140,"lo":1.6,"hi":12.6},{"p":"a","m":"KAPPA","y":2100,"lo":1.6,"hi":9.8},{"p":"a","m":"SAT02","y":2060,"lo":1.9,"hi":15.1},{"p":"a","m":"PN","y":2020,"lo":5.8,"hi":9.8},{"p":"a","m":"SAT10","y":1900,"lo":1.6,"hi":12.6},{"p":"a","m":"KAPPA","y":1860,"lo":1.6,"hi":11.4},{"p":"a","m":"SAT02","y":1820,"lo":1.1,"hi":9.5},{"p":"a","m":"PN","y":1780,"lo":6.4,"hi":10.5},{"p":"a","m":"SAT10","y":1660,"lo":1.4,"hi":14.2},{"p":"a","m":"KAPPA","y":1620,"lo":1.4,"hi":12.0},{"p":"a","m":"SAT02","y":1580,"lo":1.4,"hi":11.4},{"p":"a","m":"PN","y":1540,"lo":7.2,"hi":11.6},{"p":"a","m":"SAT10","y":1420,"lo":1.4,"hi":14.0},{"p":"a","m":"KAPPA","y":1380,"lo":1.4,"hi":12.5},{"p":"a","m":"SAT02","y":1340,"lo":1.1,"hi":9.8},{"p":"a","m":"PN","y":1300,"lo":9.7,"hi":14.5},{"p":"a","m":"SAT10","y":1180,"lo":1.4,"hi":12.3},{"p":"a","m":"KAPPA","y":1140,"lo":1.4,"hi":10.3},{"p":"a","m":"SAT02","y":1100,"lo":1.1,"hi":7.9},{"p":"a","m":"PN","y":1060,"lo":13.1,"hi":18.9},{"p":"a","m":"SAT10","y":940,"lo":1.4,"hi":9.1},{"p":"a","m":"KAPPA","y":900,"lo":1.4,"hi":8.6},{"p":"a","m":"SAT02","y":860,"lo":1.1,"hi":6.7},{"p":"a","m":"PN","y":820,"lo":16.1,"hi":22.1},{"p":"a","m":"SAT10","y":700,"lo":1.8,"hi":12.8},{"p":"a","m":"KAPPA","y":660,"lo":1.6,"hi":10.5},{"p":"a","m":"SAT02","y":620,"lo":1.4,"hi":8.8},{"p":"a","m":"PN","y":580,"lo":20.3,"hi":21.7},
{"p":"b","m":"KAPPA","y":2580,"lo":0.166,"hi":0.469},{"p":"b","m":"BASE30","y":2460,"lo":0.838,"hi":1.4},{"p":"b","m":"BASE","y":2420,"lo":1.065,"hi":1.8},{"p":"b","m":"SAT10","y":2380,"lo":0.274,"hi":0.46},{"p":"b","m":"KAPPA","y":2340,"lo":0.209,"hi":0.544},{"p":"b","m":"SAT02","y":2300,"lo":0.121,"hi":0.302},{"p":"b","m":"PN","y":2260,"lo":0.292,"hi":0.51},{"p":"b","m":"BASE30","y":2220,"lo":0.413,"hi":1.019},{"p":"b","m":"BASE","y":2180,"lo":0.866,"hi":1.8},{"p":"b","m":"SAT10","y":2140,"lo":0.19,"hi":0.596},{"p":"b","m":"KAPPA","y":2100,"lo":0.184,"hi":0.475},{"p":"b","m":"SAT02","y":2060,"lo":0.212,"hi":0.438},{"p":"b","m":"PN","y":2020,"lo":0.279,"hi":0.641},{"p":"b","m":"BASE30","y":1980,"lo":0.473,"hi":1.14},{"p":"b","m":"BASE","y":1940,"lo":0.68,"hi":1.8},{"p":"b","m":"SAT10","y":1900,"lo":0.199,"hi":0.46},{"p":"b","m":"KAPPA","y":1860,"lo":0.184,"hi":0.454},{"p":"b","m":"SAT02","y":1820,"lo":0.181,"hi":0.413},{"p":"b","m":"PN","y":1780,"lo":0.292,"hi":0.6},{"p":"b","m":"BASE30","y":1740,"lo":0.372,"hi":0.996},{"p":"b","m":"BASE","y":1700,"lo":0.432,"hi":1.13},{"p":"b","m":"SAT10","y":1660,"lo":0.181,"hi":0.445},{"p":"b","m":"KAPPA","y":1620,"lo":0.181,"hi":0.451},{"p":"b","m":"SAT02","y":1580,"lo":0.175,"hi":0.395},{"p":"b","m":"PN","y":1540,"lo":0.246,"hi":0.609},{"p":"b","m":"BASE30","y":1500,"lo":0.298,"hi":0.86},{"p":"b","m":"BASE","y":1460,"lo":0.279,"hi":0.81},{"p":"b","m":"SAT10","y":1420,"lo":0.175,"hi":0.404},{"p":"b","m":"KAPPA","y":1380,"lo":0.181,"hi":0.404},{"p":"b","m":"SAT02","y":1340,"lo":0.166,"hi":0.376},{"p":"b","m":"PN","y":1300,"lo":0.27,"hi":0.67},{"p":"b","m":"BASE30","y":1260,"lo":0.274,"hi":0.758},{"p":"b","m":"BASE","y":1220,"lo":0.264,"hi":0.749},{"p":"b","m":"SAT10","y":1180,"lo":0.175,"hi":0.395},{"p":"b","m":"KAPPA","y":1140,"lo":0.166,"hi":0.385},{"p":"b","m":"SAT02","y":1100,"lo":0.166,"hi":0.361},{"p":"b","m":"PN","y":1060,"lo":0.268,"hi":0.652},{"p":"b","m":"BASE30","y":1020,"lo":0.274,"hi":0.652},{"p":"b","m":"BASE","y":980,"lo":0.231,"hi":0.622},{"p":"b","m":"SAT10","y":940,"lo":0.175,"hi":0.436},{"p":"b","m":"KAPPA","y":900,"lo":0.171,"hi":0.432},{"p":"b","m":"SAT02","y":860,"lo":0.168,"hi":0.398},{"p":"b","m":"PN","y":820,"lo":0.212,"hi":0.466},{"p":"b","m":"BASE30","y":780,"lo":0.194,"hi":0.389},{"p":"b","m":"BASE","y":740,"lo":0.186,"hi":0.307},{"p":"b","m":"SAT10","y":700,"lo":0.162,"hi":0.289},{"p":"b","m":"KAPPA","y":660,"lo":0.18,"hi":0.227},{"p":"b","m":"SAT02","y":620,"lo":0.162,"hi":0.186},
{"p":"c","m":"KAPPA","y":2580,"lo":87,"hi":977},{"p":"c","m":"PN","y":2500,"lo":37.2,"hi":135},{"p":"c","m":"BASE30","y":2460,"lo":52.5,"hi":447},{"p":"c","m":"BASE","y":2420,"lo":19.1,"hi":75.9},{"p":"c","m":"SAT10","y":2380,"lo":66.1,"hi":676},{"p":"c","m":"KAPPA","y":2340,"lo":87,"hi":692},{"p":"c","m":"SAT02","y":2300,"lo":34.7,"hi":708},{"p":"c","m":"PN","y":2260,"lo":57.5,"hi":603},{"p":"c","m":"BASE30","y":2220,"lo":22.9,"hi":316},{"p":"c","m":"BASE","y":2180,"lo":9.33,"hi":97.7},{"p":"c","m":"SAT10","y":2140,"lo":63.1,"hi":776},{"p":"c","m":"KAPPA","y":2100,"lo":95.5,"hi":708},{"p":"c","m":"SAT02","y":2060,"lo":74.1,"hi":851},{"p":"c","m":"PN","y":2020,"lo":75.9,"hi":646},{"p":"c","m":"BASE30","y":1980,"lo":37.2,"hi":347},{"p":"c","m":"BASE","y":1940,"lo":10.2,"hi":46.8},{"p":"c","m":"SAT10","y":1900,"lo":85.1,"hi":708},{"p":"c","m":"KAPPA","y":1860,"lo":79.4,"hi":708},{"p":"c","m":"SAT02","y":1820,"lo":81.3,"hi":776},{"p":"c","m":"PN","y":1780,"lo":66.1,"hi":562},{"p":"c","m":"BASE30","y":1740,"lo":26.9,"hi":214},{"p":"c","m":"BASE","y":1700,"lo":5.13,"hi":17.8},{"p":"c","m":"SAT10","y":1660,"lo":70.8,"hi":676},{"p":"c","m":"KAPPA","y":1620,"lo":70.8,"hi":692},{"p":"c","m":"SAT02","y":1580,"lo":70.8,"hi":661},{"p":"c","m":"PN","y":1540,"lo":55,"hi":417},{"p":"c","m":"BASE30","y":1500,"lo":16.6,"hi":97.7},{"p":"c","m":"BASE","y":1460,"lo":3.09,"hi":8.51},{"p":"c","m":"SAT10","y":1420,"lo":60.3,"hi":603},{"p":"c","m":"KAPPA","y":1380,"lo":53.7,"hi":589},{"p":"c","m":"SAT02","y":1340,"lo":50.1,"hi":603},{"p":"c","m":"PN","y":1300,"lo":26.9,"hi":229},{"p":"c","m":"BASE30","y":1260,"lo":7.24,"hi":33.9},{"p":"c","m":"BASE","y":1220,"lo":2.09,"hi":5.37},{"p":"c","m":"SAT10","y":1180,"lo":39.8,"hi":501},{"p":"c","m":"KAPPA","y":1140,"lo":37.2,"hi":501},{"p":"c","m":"SAT02","y":1100,"lo":37.2,"hi":501},{"p":"c","m":"PN","y":1060,"lo":12.0,"hi":81.3},{"p":"c","m":"BASE30","y":1020,"lo":3.02,"hi":12.0},{"p":"c","m":"BASE","y":980,"lo":1.07,"hi":2.88},{"p":"c","m":"SAT10","y":940,"lo":30.9,"hi":389},{"p":"c","m":"KAPPA","y":900,"lo":30.2,"hi":389},{"p":"c","m":"SAT02","y":860,"lo":28.8,"hi":389},{"p":"c","m":"PN","y":820,"lo":3.98,"hi":20.4},{"p":"c","m":"BASE30","y":780,"lo":1.29,"hi":5.13},{"p":"c","m":"BASE","y":740,"lo":0.603,"hi":1.48},{"p":"c","m":"SAT10","y":700,"lo":26.3,"hi":178},{"p":"c","m":"KAPPA","y":660,"lo":25.7,"hi":158},{"p":"c","m":"SAT02","y":620,"lo":24.0,"hi":135},{"p":"c","m":"PN","y":580,"lo":1.29,"hi":6.46},{"p":"c","m":"BASE30","y":540,"lo":0.55,"hi":2.19},{"p":"c","m":"BASE","y":500,"lo":0.302,"hi":0.813},{"p":"c","m":"SAT10","y":460,"lo":3.24,"hi":17.8},{"p":"c","m":"KAPPA","y":420,"lo":2.82,"hi":15.5},{"p":"c","m":"SAT02","y":380,"lo":2.04,"hi":11.7},{"p":"c","m":"PN","y":340,"lo":0.55,"hi":2.51},{"p":"c","m":"BASE30","y":300,"lo":0.204,"hi":0.871},{"p":"c","m":"BASE","y":260,"lo":0.2,"hi":0.457},{"p":"c","m":"SAT10","y":220,"lo":0.813,"hi":5.37},{"p":"c","m":"KAPPA","y":180,"lo":0.794,"hi":5.01},{"p":"c","m":"SAT02","y":140,"lo":0.676,"hi":3.98},{"p":"c","m":"PN","y":100,"lo":0.24,"hi":1.32},{"p":"c","m":"BASE30","y":60,"lo":0.102,"hi":0.794},
{"p":"d","m":"SAT10","y":2620,"lo":0.00398,"hi":0.102},{"p":"d","m":"KAPPA","y":2580,"lo":0.0138,"hi":0.347},{"p":"d","m":"SAT02","y":2540,"lo":0.00295,"hi":0.0562},{"p":"d","m":"PN","y":2500,"lo":0.0129,"hi":0.0417},{"p":"d","m":"BASE30","y":2460,"lo":0.0234,"hi":0.331},{"p":"d","m":"BASE","y":2420,"lo":0.00692,"hi":0.0324},{"p":"d","m":"SAT10","y":2380,"lo":0.00813,"hi":0.245},{"p":"d","m":"KAPPA","y":2340,"lo":0.0138,"hi":0.389},{"p":"d","m":"SAT02","y":2300,"lo":0.00603,"hi":0.309},{"p":"d","m":"PN","y":2260,"lo":0.0105,"hi":0.282},{"p":"d","m":"BASE30","y":2220,"lo":0.00776,"hi":0.269},{"p":"d","m":"BASE","y":2180,"lo":0.00331,"hi":0.0468},{"p":"d","m":"SAT10","y":2140,"lo":0.00832,"hi":0.316},{"p":"d","m":"KAPPA","y":2100,"lo":0.0129,"hi":0.372},{"p":"d","m":"SAT02","y":2060,"lo":0.0115,"hi":0.372},{"p":"d","m":"PN","y":2020,"lo":0.0135,"hi":0.347},{"p":"d","m":"BASE30","y":1980,"lo":0.0132,"hi":0.275},{"p":"d","m":"BASE","y":1940,"lo":0.00407,"hi":0.0257},{"p":"d","m":"SAT10","y":1900,"lo":0.0117,"hi":0.324},{"p":"d","m":"KAPPA","y":1860,"lo":0.00933,"hi":0.309},{"p":"d","m":"SAT02","y":1820,"lo":0.0112,"hi":0.309},{"p":"d","m":"PN","y":1780,"lo":0.0135,"hi":0.316},{"p":"d","m":"BASE30","y":1740,"lo":0.00891,"hi":0.17},{"p":"d","m":"BASE","y":1700,"lo":0.00229,"hi":0.0115},{"p":"d","m":"SAT10","y":1660,"lo":0.0115,"hi":0.295},{"p":"d","m":"KAPPA","y":1620,"lo":0.011,"hi":0.282},{"p":"d","m":"SAT02","y":1580,"lo":0.0107,"hi":0.269},{"p":"d","m":"PN","y":1540,"lo":0.0123,"hi":0.251},{"p":"d","m":"BASE30","y":1500,"lo":0.00589,"hi":0.0759},{"p":"d","m":"BASE","y":1460,"lo":0.00151,"hi":0.00646},{"p":"d","m":"SAT10","y":1420,"lo":0.01,"hi":0.245},{"p":"d","m":"KAPPA","y":1380,"lo":0.00955,"hi":0.234},{"p":"d","m":"SAT02","y":1340,"lo":0.00955,"hi":0.234},{"p":"d","m":"PN","y":1300,"lo":0.00871,"hi":0.174},{"p":"d","m":"BASE30","y":1260,"lo":0.00347,"hi":0.0295},{"p":"d","m":"BASE","y":1220,"lo":0.00151,"hi":0.00562},{"p":"d","m":"SAT10","y":1180,"lo":0.00871,"hi":0.214},{"p":"d","m":"KAPPA","y":1140,"lo":0.00891,"hi":0.204},{"p":"d","m":"SAT02","y":1100,"lo":0.00871,"hi":0.204},{"p":"d","m":"PN","y":1060,"lo":0.0055,"hi":0.0724},{"p":"d","m":"BASE30","y":1020,"lo":0.00195,"hi":0.0162},{"p":"d","m":"BASE","y":980,"lo":0.00158,"hi":0.00692},{"p":"d","m":"SAT10","y":940,"lo":0.00813,"hi":0.174},{"p":"d","m":"KAPPA","y":900,"lo":0.00794,"hi":0.174},{"p":"d","m":"SAT02","y":860,"lo":0.00776,"hi":0.166},{"p":"d","m":"PN","y":820,"lo":0.00295,"hi":0.0355},{"p":"d","m":"BASE30","y":780,"lo":0.00229,"hi":0.0191},{"p":"d","m":"BASE","y":740,"lo":0.0017,"hi":0.00776},{"p":"d","m":"SAT10","y":700,"lo":0.00708,"hi":0.0912},{"p":"d","m":"KAPPA","y":660,"lo":0.00661,"hi":0.0832},{"p":"d","m":"SAT02","y":620,"lo":0.00589,"hi":0.0661},{"p":"d","m":"PN","y":580,"lo":0.00295,"hi":0.0324},{"p":"d","m":"BASE30","y":540,"lo":0.00204,"hi":0.0158},{"p":"d","m":"BASE","y":500,"lo":0.00151,"hi":0.00676},{"p":"d","m":"SAT10","y":460,"lo":0.00263,"hi":0.0257},{"p":"d","m":"KAPPA","y":420,"lo":0.00269,"hi":0.0275},{"p":"d","m":"SAT02","y":380,"lo":0.00269,"hi":0.0251},{"p":"d","m":"PN","y":340,"lo":0.00263,"hi":0.0257},{"p":"d","m":"BASE30","y":300,"lo":0.00195,"hi":0.0158},{"p":"d","m":"BASE","y":260,"lo":0.00129,"hi":0.00437},{"p":"d","m":"SAT10","y":220,"lo":0.00251,"hi":0.0234},{"p":"d","m":"KAPPA","y":180,"lo":0.00257,"hi":0.0234},{"p":"d","m":"SAT02","y":140,"lo":0.00251,"hi":0.0219},{"p":"d","m":"PN","y":100,"lo":0.00257,"hi":0.024},{"p":"d","m":"BASE30","y":60,"lo":0.00204,"hi":0.0178},{"p":"d","m":"BASE","y":20,"lo":0.00126,"hi":0.00363}
]
},
"resolve":{"scale":{"color":"independent","x":"independent","y":"independent"},"legend":{"color":"independent"}},
"hconcat":[
{
 "width":286,"height":974,
 "title":{"text":"(a)\u00a0\u00a0Clouddrop number conc."},
 "encoding":{"y":{"field":"y","type":"quantitative","scale":{"domain":[0,2750],"nice":false,"zero":false},"axis":{"title":"Altitude (m)","values":[0,500,1000,1500,2000,2500],"format":"d","labelOverlap":false}}},
 "resolve":{"axis":{"x":"independent"}},
 "layer":[
  {"data":{"name":"obs"},"transform":[{"filter":"datum.p=='a'"}],"mark":{"type":"rect","color":"#d3d3d3","clip":true},"encoding":{"x":{"field":"lo","type":"quantitative","scale":{"domain":[0,80],"nice":false,"zero":false},"axis":{"title":"Nc (cm⁻³)","values":[0,10,20,30,40,50,60,70,80],"tickCount":9,"labelOverlap":false,"labelSeparation":0,"labelBound":false}},"x2":{"field":"hi"},"y2":{"field":"y1"}}},
  {"data":{"name":"obs"},"transform":[{"filter":"datum.p=='a'"}],"mark":{"type":"rect","color":"#a9a9a9","stroke":"#999","strokeWidth":1,"clip":true},"encoding":{"x":{"field":"q1","type":"quantitative","scale":{"domain":[0,80],"nice":false,"zero":false},"axis":null},"x2":{"field":"q3"},"y2":{"field":"y1"}}},
  {"data":{"name":"obs"},"transform":[{"filter":"datum.p=='a'"}],"mark":{"type":"rule","color":"#000","strokeWidth":2.5,"clip":true},"encoding":{"x":{"field":"med","type":"quantitative","scale":{"domain":[0,80],"nice":false,"zero":false},"axis":null},"y2":{"field":"y1"}}},
  {"data":{"name":"err"},"transform":[{"filter":"datum.p=='a'"}],"mark":{"type":"rule","strokeWidth":2,"clip":true},"encoding":{"x":{"field":"lo","type":"quantitative","scale":{"domain":[0,80],"nice":false,"zero":false},"axis":null},"x2":{"field":"hi"},"color":{"field":"m","type":"nominal","scale":{"domain":["BASE","BASE30","PN","SAT02","KAPPA","SAT10"],"range":["#332288","#88CCEE","#117733","#DDCC77","#CC6677","#882255"]},"legend":{"title":null,"orient":"none","legendX":24,"legendY":883,"columns":2,"columnPadding":6,"rowPadding":2,"labelFontSize":17,"labelColor":"#000","labelOffset":12,"symbolType":"stroke","symbolStrokeWidth":4,"symbolSize":784,"symbolOpacity":1,"padding":5,"strokeColor":"#000","fillColor":"#fff","cornerRadius":5}}}},
  {"data":{"name":"err"},"transform":[{"filter":"datum.p=='a'"}],"mark":{"type":"tick","orient":"vertical","size":8,"thickness":2,"opacity":1,"clip":true},"encoding":{"x":{"field":"lo","type":"quantitative","scale":{"domain":[0,80],"nice":false,"zero":false},"axis":null},"color":{"field":"m","type":"nominal","scale":{"domain":["BASE","BASE30","PN","SAT02","KAPPA","SAT10"],"range":["#332288","#88CCEE","#117733","#DDCC77","#CC6677","#882255"]},"legend":{"title":null,"orient":"none","legendX":24,"legendY":883,"columns":2,"columnPadding":6,"rowPadding":2,"labelFontSize":17,"labelColor":"#000","labelOffset":12,"symbolType":"stroke","symbolStrokeWidth":4,"symbolSize":784,"symbolOpacity":1,"padding":5,"strokeColor":"#000","fillColor":"#fff","cornerRadius":5}}}},
  {"data":{"name":"err"},"transform":[{"filter":"datum.p=='a'"}],"mark":{"type":"tick","orient":"vertical","size":8,"thickness":2,"opacity":1,"clip":true},"encoding":{"x":{"field":"hi","type":"quantitative","scale":{"domain":[0,80],"nice":false,"zero":false},"axis":null},"color":{"field":"m","type":"nominal","scale":{"domain":["BASE","BASE30","PN","SAT02","KAPPA","SAT10"],"range":["#332288","#88CCEE","#117733","#DDCC77","#CC6677","#882255"]},"legend":{"title":null,"orient":"none","legendX":24,"legendY":883,"columns":2,"columnPadding":6,"rowPadding":2,"labelFontSize":17,"labelColor":"#000","labelOffset":12,"symbolType":"stroke","symbolStrokeWidth":4,"symbolSize":784,"symbolOpacity":1,"padding":5,"strokeColor":"#000","fillColor":"#fff","cornerRadius":5}}}},
  {"data":{"name":"lines"},"transform":[{"filter":"datum.p=='a'"}],"mark":{"type":"line","strokeWidth":3.5,"clip":true},"encoding":{"x":{"field":"v","type":"quantitative","scale":{"domain":[0,80],"nice":false,"zero":false},"axis":null},"order":{"field":"y","type":"quantitative"},"color":{"field":"m","type":"nominal","scale":{"domain":["BASE","BASE30","PN","SAT02","KAPPA","SAT10"],"range":["#332288","#88CCEE","#117733","#DDCC77","#CC6677","#882255"]},"legend":{"title":null,"orient":"none","legendX":24,"legendY":883,"columns":2,"columnPadding":6,"rowPadding":2,"labelFontSize":17,"labelColor":"#000","labelOffset":12,"symbolType":"stroke","symbolStrokeWidth":4,"symbolSize":784,"symbolOpacity":1,"padding":5,"strokeColor":"#000","fillColor":"#fff","cornerRadius":5}}}}
 ]
},
{
 "width":286,"height":974,
 "title":{"text":"(b)\u00a0\u00a0\u00a0\u00a0\u00a0Liquid water content"},
 "encoding":{"y":{"field":"y","type":"quantitative","scale":{"domain":[0,2750],"nice":false,"zero":false},"axis":{"title":null,"labels":false,"values":[0,500,1000,1500,2000,2500]}}},
 "layer":[
  {"data":{"name":"obs"},"transform":[{"filter":"datum.p=='b'"}],"mark":{"type":"rect","color":"#d3d3d3","clip":true},"encoding":{"x":{"field":"lo","type":"quantitative","scale":{"domain":[0,1.6],"nice":false,"zero":false},"axis":{"title":"qc (g m⁻³)","values":[0,0.5,1,1.5],"format":".1f","labelOverlap":false}},"x2":{"field":"hi"},"y2":{"field":"y1"}}},
  {"data":{"name":"obs"},"transform":[{"filter":"datum.p=='b'"}],"mark":{"type":"rect","color":"#a9a9a9","stroke":"#999","strokeWidth":1,"clip":true},"encoding":{"x":{"field":"q1","type":"quantitative","scale":{"domain":[0,1.6],"nice":false,"zero":false}},"x2":{"field":"q3"},"y2":{"field":"y1"}}},
  {"data":{"name":"obs"},"transform":[{"filter":"datum.p=='b'"}],"mark":{"type":"rule","color":"#000","strokeWidth":2.5,"clip":true},"encoding":{"x":{"field":"med","type":"quantitative","scale":{"domain":[0,1.6],"nice":false,"zero":false}},"y2":{"field":"y1"}}},
  {"data":{"name":"err"},"transform":[{"filter":"datum.p=='b'"}],"mark":{"type":"rule","strokeWidth":2,"clip":true},"encoding":{"x":{"field":"lo","type":"quantitative","scale":{"domain":[0,1.6],"nice":false,"zero":false}},"x2":{"field":"hi"},"color":{"field":"m","type":"nominal","scale":{"domain":["BASE","BASE30","PN","SAT02","KAPPA","SAT10"],"range":["#332288","#88CCEE","#117733","#DDCC77","#CC6677","#882255"]},"legend":null}}},
  {"data":{"name":"err"},"transform":[{"filter":"datum.p=='b'"}],"mark":{"type":"tick","orient":"vertical","size":8,"thickness":2,"opacity":1,"clip":true},"encoding":{"x":{"field":"lo","type":"quantitative","scale":{"domain":[0,1.6],"nice":false,"zero":false}},"color":{"field":"m","type":"nominal","scale":{"domain":["BASE","BASE30","PN","SAT02","KAPPA","SAT10"],"range":["#332288","#88CCEE","#117733","#DDCC77","#CC6677","#882255"]},"legend":null}}},
  {"data":{"name":"err"},"transform":[{"filter":"datum.p=='b'"}],"mark":{"type":"tick","orient":"vertical","size":8,"thickness":2,"opacity":1,"clip":true},"encoding":{"x":{"field":"hi","type":"quantitative","scale":{"domain":[0,1.6],"nice":false,"zero":false}},"color":{"field":"m","type":"nominal","scale":{"domain":["BASE","BASE30","PN","SAT02","KAPPA","SAT10"],"range":["#332288","#88CCEE","#117733","#DDCC77","#CC6677","#882255"]},"legend":null}}},
  {"data":{"name":"lines"},"transform":[{"filter":"datum.p=='b'"}],"mark":{"type":"line","strokeWidth":3.5,"clip":true},"encoding":{"x":{"field":"v","type":"quantitative","scale":{"domain":[0,1.6],"nice":false,"zero":false}},"order":{"field":"y","type":"quantitative"},"color":{"field":"m","type":"nominal","scale":{"domain":["BASE","BASE30","PN","SAT02","KAPPA","SAT10"],"range":["#332288","#88CCEE","#117733","#DDCC77","#CC6677","#882255"]},"legend":null}}}
 ]
},
{
 "width":286,"height":974,
 "title":{"text":"(c)\u00a0\u00a0\u00a0Raindrop number conc."},
 "encoding":{"y":{"field":"y","type":"quantitative","scale":{"domain":[0,2750],"nice":false,"zero":false},"axis":{"title":null,"labels":false,"values":[0,500,1000,1500,2000,2500]}}},
 "resolve":{"axis":{"x":"independent"}},
 "layer":[
  {"data":{"name":"obs"},"transform":[{"filter":"datum.p=='c'"}],"mark":{"type":"point","opacity":0},"encoding":{"x":{"field":"med","type":"quantitative","scale":{"type":"log","domain":[0.01,2000],"nice":false},"axis":{"orient":"bottom","title":null,"labels":false,"grid":false,"ticks":true,"tickSize":-4,"tickColor":"#333","tickWidth":1,"values":[0.01,0.02,0.03,0.04,0.05,0.06,0.07,0.08,0.09,0.1,0.2,0.3,0.4,0.5,0.6,0.7,0.8,0.9,1,2,3,4,5,6,7,8,9,10,20,30,40,50,60,70,80,90,100,200,300,400,500,600,700,800,900,1000]}}}},
  {"data":{"name":"obs"},"transform":[{"filter":"datum.p=='c'"}],"mark":{"type":"point","opacity":0},"encoding":{"x":{"field":"med","type":"quantitative","scale":{"type":"log","domain":[0.01,2000],"nice":false},"axis":{"orient":"top","title":null,"labels":false,"grid":false,"ticks":true,"tickSize":-4,"tickColor":"#333","tickWidth":1,"values":[0.01,0.02,0.03,0.04,0.05,0.06,0.07,0.08,0.09,0.1,0.2,0.3,0.4,0.5,0.6,0.7,0.8,0.9,1,2,3,4,5,6,7,8,9,10,20,30,40,50,60,70,80,90,100,200,300,400,500,600,700,800,900,1000]}}}},
  {"data":{"name":"obs"},"transform":[{"filter":"datum.p=='c'"}],"mark":{"type":"rect","color":"#d3d3d3","clip":true},"encoding":{"x":{"field":"lo","type":"quantitative","scale":{"type":"log","domain":[0.01,2000],"nice":false},"axis":{"title":"Nr (dm⁻³)","values":[0.01,0.1,1,10,100,1000],"labelOverlap":false,"labelExpr":"'10' + ['⁻³','⁻²','⁻¹','⁰','¹','²','³'][round(log(datum.value)/LN10)+3]"}},"x2":{"field":"hi"},"y2":{"field":"y1"}}},
  {"data":{"name":"obs"},"transform":[{"filter":"datum.p=='c'"}],"mark":{"type":"rect","color":"#a9a9a9","stroke":"#999","strokeWidth":1,"clip":true},"encoding":{"x":{"field":"q1","type":"quantitative","scale":{"type":"log","domain":[0.01,2000],"nice":false},"axis":null},"x2":{"field":"q3"},"y2":{"field":"y1"}}},
  {"data":{"name":"obs"},"transform":[{"filter":"datum.p=='c'"}],"mark":{"type":"rule","color":"#000","strokeWidth":2.5,"clip":true},"encoding":{"x":{"field":"med","type":"quantitative","scale":{"type":"log","domain":[0.01,2000],"nice":false},"axis":null},"y2":{"field":"y1"}}},
  {"data":{"name":"err"},"transform":[{"filter":"datum.p=='c'"}],"mark":{"type":"rule","strokeWidth":2,"clip":true},"encoding":{"x":{"field":"lo","type":"quantitative","scale":{"type":"log","domain":[0.01,2000],"nice":false},"axis":null},"x2":{"field":"hi"},"color":{"field":"m","type":"nominal","scale":{"domain":["BASE","BASE30","PN","SAT02","KAPPA","SAT10"],"range":["#332288","#88CCEE","#117733","#DDCC77","#CC6677","#882255"]},"legend":null}}},
  {"data":{"name":"err"},"transform":[{"filter":"datum.p=='c'"}],"mark":{"type":"tick","orient":"vertical","size":8,"thickness":2,"opacity":1,"clip":true},"encoding":{"x":{"field":"lo","type":"quantitative","scale":{"type":"log","domain":[0.01,2000],"nice":false},"axis":null},"color":{"field":"m","type":"nominal","scale":{"domain":["BASE","BASE30","PN","SAT02","KAPPA","SAT10"],"range":["#332288","#88CCEE","#117733","#DDCC77","#CC6677","#882255"]},"legend":null}}},
  {"data":{"name":"err"},"transform":[{"filter":"datum.p=='c'"}],"mark":{"type":"tick","orient":"vertical","size":8,"thickness":2,"opacity":1,"clip":true},"encoding":{"x":{"field":"hi","type":"quantitative","scale":{"type":"log","domain":[0.01,2000],"nice":false},"axis":null},"color":{"field":"m","type":"nominal","scale":{"domain":["BASE","BASE30","PN","SAT02","KAPPA","SAT10"],"range":["#332288","#88CCEE","#117733","#DDCC77","#CC6677","#882255"]},"legend":null}}},
  {"data":{"name":"lines"},"transform":[{"filter":"datum.p=='c'"}],"mark":{"type":"line","strokeWidth":3.5,"clip":true},"encoding":{"x":{"field":"v","type":"quantitative","scale":{"type":"log","domain":[0.01,2000],"nice":false},"axis":null},"order":{"field":"y","type":"quantitative"},"color":{"field":"m","type":"nominal","scale":{"domain":["BASE","BASE30","PN","SAT02","KAPPA","SAT10"],"range":["#332288","#88CCEE","#117733","#DDCC77","#CC6677","#882255"]},"legend":null}}}
 ]
},
{
 "width":286,"height":974,
 "title":{"text":"(d)\u00a0\u00a0\u00a0\u00a0\u00a0\u00a0Rain water content"},
 "encoding":{"y":{"field":"y","type":"quantitative","scale":{"domain":[0,2750],"nice":false,"zero":false},"axis":{"title":null,"labels":false,"values":[0,500,1000,1500,2000,2500]}}},
 "resolve":{"axis":{"x":"independent"}},
 "layer":[
  {"data":{"name":"obs"},"transform":[{"filter":"datum.p=='d'"}],"mark":{"type":"point","opacity":0},"encoding":{"x":{"field":"med","type":"quantitative","scale":{"type":"log","domain":[0.0005,5],"nice":false},"axis":{"orient":"bottom","title":null,"labels":false,"grid":false,"ticks":true,"tickSize":-4,"tickColor":"#333","tickWidth":1,"values":[0.0005,0.0006,0.0007,0.0008,0.0009,0.001,0.002,0.003,0.004,0.005,0.006,0.007,0.008,0.009,0.01,0.02,0.03,0.04,0.05,0.06,0.07,0.08,0.09,0.1,0.2,0.3,0.4,0.5,0.6,0.7,0.8,0.9,1,2,3,4]}}}},
  {"data":{"name":"obs"},"transform":[{"filter":"datum.p=='d'"}],"mark":{"type":"point","opacity":0},"encoding":{"x":{"field":"med","type":"quantitative","scale":{"type":"log","domain":[0.0005,5],"nice":false},"axis":{"orient":"top","title":null,"labels":false,"grid":false,"ticks":true,"tickSize":-4,"tickColor":"#333","tickWidth":1,"values":[0.0005,0.0006,0.0007,0.0008,0.0009,0.001,0.002,0.003,0.004,0.005,0.006,0.007,0.008,0.009,0.01,0.02,0.03,0.04,0.05,0.06,0.07,0.08,0.09,0.1,0.2,0.3,0.4,0.5,0.6,0.7,0.8,0.9,1,2,3,4]}}}},
  {"data":{"name":"obs"},"transform":[{"filter":"datum.p=='d'"}],"mark":{"type":"rect","color":"#d3d3d3","clip":true},"encoding":{"x":{"field":"lo","type":"quantitative","scale":{"type":"log","domain":[0.0005,5],"nice":false},"axis":{"title":"qr (g m⁻³)","values":[0.001,0.01,0.1,1],"labelOverlap":false,"labelExpr":"'10' + ['⁻³','⁻²','⁻¹','⁰','¹','²','³'][round(log(datum.value)/LN10)+3]"}},"x2":{"field":"hi"},"y2":{"field":"y1"}}},
  {"data":{"name":"obs"},"transform":[{"filter":"datum.p=='d'"}],"mark":{"type":"rect","color":"#a9a9a9","stroke":"#999","strokeWidth":1,"clip":true},"encoding":{"x":{"field":"q1","type":"quantitative","scale":{"type":"log","domain":[0.0005,5],"nice":false},"axis":null},"x2":{"field":"q3"},"y2":{"field":"y1"}}},
  {"data":{"name":"obs"},"transform":[{"filter":"datum.p=='d'"}],"mark":{"type":"rule","color":"#000","strokeWidth":2.5,"clip":true},"encoding":{"x":{"field":"med","type":"quantitative","scale":{"type":"log","domain":[0.0005,5],"nice":false},"axis":null},"y2":{"field":"y1"}}},
  {"data":{"name":"err"},"transform":[{"filter":"datum.p=='d'"}],"mark":{"type":"rule","strokeWidth":2,"clip":true},"encoding":{"x":{"field":"lo","type":"quantitative","scale":{"type":"log","domain":[0.0005,5],"nice":false},"axis":null},"x2":{"field":"hi"},"color":{"field":"m","type":"nominal","scale":{"domain":["BASE","BASE30","PN","SAT02","KAPPA","SAT10"],"range":["#332288","#88CCEE","#117733","#DDCC77","#CC6677","#882255"]},"legend":null}}},
  {"data":{"name":"err"},"transform":[{"filter":"datum.p=='d'"}],"mark":{"type":"tick","orient":"vertical","size":8,"thickness":2,"opacity":1,"clip":true},"encoding":{"x":{"field":"lo","type":"quantitative","scale":{"type":"log","domain":[0.0005,5],"nice":false},"axis":null},"color":{"field":"m","type":"nominal","scale":{"domain":["BASE","BASE30","PN","SAT02","KAPPA","SAT10"],"range":["#332288","#88CCEE","#117733","#DDCC77","#CC6677","#882255"]},"legend":null}}},
  {"data":{"name":"err"},"transform":[{"filter":"datum.p=='d'"}],"mark":{"type":"tick","orient":"vertical","size":8,"thickness":2,"opacity":1,"clip":true},"encoding":{"x":{"field":"hi","type":"quantitative","scale":{"type":"log","domain":[0.0005,5],"nice":false},"axis":null},"color":{"field":"m","type":"nominal","scale":{"domain":["BASE","BASE30","PN","SAT02","KAPPA","SAT10"],"range":["#332288","#88CCEE","#117733","#DDCC77","#CC6677","#882255"]},"legend":null}}},
  {"data":{"name":"lines"},"transform":[{"filter":"datum.p=='d'"}],"mark":{"type":"line","strokeWidth":3.5,"clip":true},"encoding":{"x":{"field":"v","type":"quantitative","scale":{"type":"log","domain":[0.0005,5],"nice":false},"axis":null},"order":{"field":"y","type":"quantitative"},"color":{"field":"m","type":"nominal","scale":{"domain":["BASE","BASE30","PN","SAT02","KAPPA","SAT10"],"range":["#332288","#88CCEE","#117733","#DDCC77","#CC6677","#882255"]},"legend":null}}}
 ]
}
]
}
